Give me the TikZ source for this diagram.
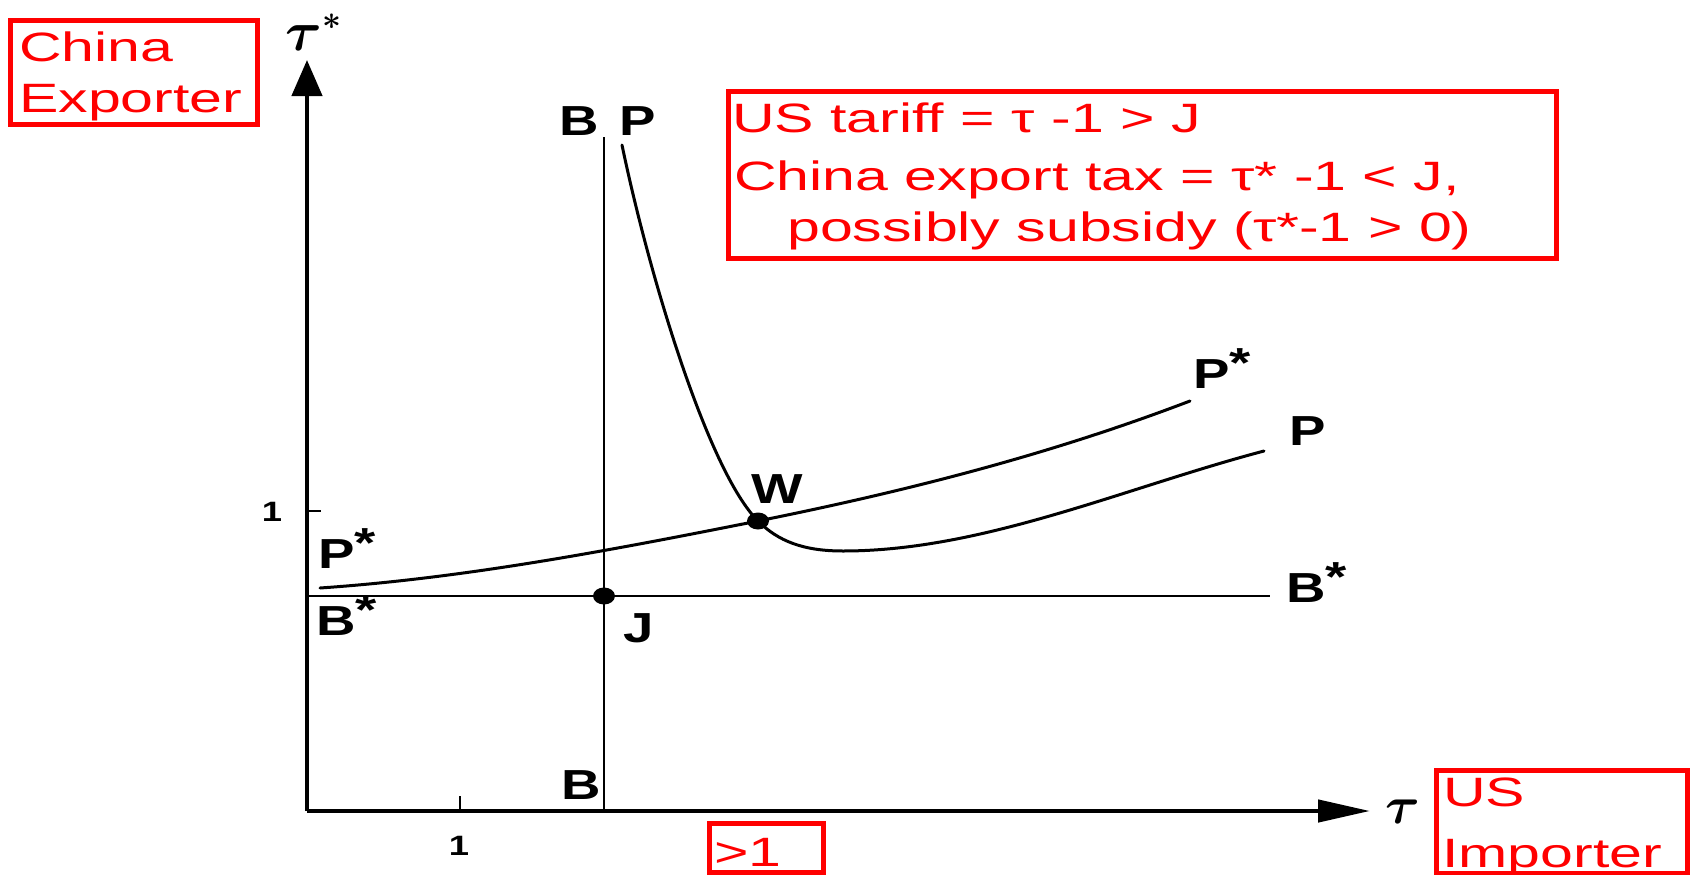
\documentclass[tikz,border=0pt]{standalone}
\usepackage{fontspec}
\usepackage{amsmath}
\usepackage{bm}
\usetikzlibrary{arrows.meta,shapes.geometric}
\newfontfamily\redfont[FakeStretch=1.44]{Liberation Sans}
\newfontfamily\lblfont[FakeStretch=1.3]{Liberation Sans Bold}
\begin{document}
\begin{tikzpicture}[x=1pt,y=-1pt,
  redbox/.style={draw=red, line width=5pt},
  redtext/.style={text=red, font=\redfont\fontsize{41}{50}\selectfont, inner sep=0pt, anchor=base west},
  lbl/.style={font=\lblfont\fontsize{42}{42}\selectfont, inner sep=0pt, anchor=base west},
  ticklbl/.style={font=\lblfont\fontsize{28}{28}\selectfont, inner sep=0pt},
  taulbl/.style={font=\normalsize, inner sep=0pt, anchor=base west},
  axisline/.style={line width=4.5pt},
  thinline/.style={line width=2.6pt},
  curveline/.style={line width=3pt, line cap=round},
  dotnode/.style={ellipse, fill=black, inner sep=0pt, minimum width=22pt, minimum height=17pt}
]
\useasboundingbox (0,0) rectangle (1690,875);
\fill[white] (0,0) rectangle (1690,875);

% coordinates
\coordinate (O) at (307,811);
\coordinate (Ytip) at (307,60);
\coordinate (Xtip) at (1370,811);
\coordinate (Btop) at (604,137);
\coordinate (Bbot) at (604,811);
\coordinate (BSl) at (307,596);
\coordinate (BSr) at (1270,596);
\coordinate (Yt1) at (321,511);
\coordinate (Yt0) at (307,511);
\coordinate (Xt0) at (460,811);
\coordinate (Xt1) at (460,796);
\coordinate (Pstart) at (622,145);
\coordinate (Pmin) at (843,551);
\coordinate (Pend) at (1264,451);
\coordinate (PSstart) at (320,588);
\coordinate (PSend) at (1190,401);
\coordinate (Wpt) at (758,521);
\coordinate (Jpt) at (604,596);

% axes
\draw[axisline, -{Triangle[length=36pt,width=30pt]}] (O) -- (Ytip);
\draw[axisline, -{Triangle[length=52pt,width=22pt]}] (O) -- (Xtip);
\draw[thinline] (Yt0) -- (Yt1);
\draw[thinline] (Xt0) -- (Xt1);

% B and B* lines
\draw[thinline] (Btop) -- (Bbot);
\draw[thinline] (BSl) -- (BSr);

% P curve
\draw[curveline] (Pstart) .. controls (649,275) and (708,471) .. (Wpt)
  .. controls (778,541) and (803,551) .. (Pmin)
  .. controls (983,551) and (1124,488) .. (Pend);
% P* curve
\draw[curveline] (PSstart) .. controls (466,578) and (612,550) .. (Wpt)
  .. controls (902,492) and (1046,456) .. (PSend);

% dots
\node[dotnode] (J) at (Jpt) {};
\node[dotnode] (W) at (Wpt) {};

% black labels
\node[lbl] (labBtop) at (559,135) {B};
\node[lbl] (labPtop) at (619,135) {P};
\node[lbl] (labBbot) at (561,799) {B};
\node[lbl] (labPSl) at (318,568) {P\raisebox{0.25em}{*}};
\node[lbl] (labBSl) at (316,635) {B\raisebox{0.25em}{*}};
\node[lbl] (labJ) at (623,642) {J};
\node[lbl] (labW) at (751,503) {W};
\node[lbl] (labPSr) at (1193,388) {P\raisebox{0.25em}{*}};
\node[lbl] (labPr) at (1289,445) {P};
\node[lbl] (labBSr) at (1286,602) {B\raisebox{0.25em}{*}};
\node[ticklbl] (one1) at (272,512) {1};
\node[ticklbl] (one2) at (459,846) {1};
\node[taulbl] (tauS) at (285,51) {\scalebox{5.6}{$\bm{\tau}$}\hspace{1pt}\raisebox{21pt}[12pt][0pt]{\scalebox{3.3}{$\bm{*}$}}};
\node[taulbl] (tau) at (1385,823) {\scalebox{5.3}{$\bm{\tau}$}};

% red boxes
\draw[redbox] (10.5,20.5) rectangle (257.5,124);
\node[redtext] (ch1) at (19,62) {China};
\node[redtext] (ch2) at (19,113) {Exporter};

\draw[redbox] (728.5,92) rectangle (1556.5,258.5);
\node[redtext] (n1) at (732,132) {US tariff = τ -1 > J};
\node[redtext] (n2) at (734,190) {China export tax = τ* -1 < J,};
\node[redtext] (n3) at (787,241) {possibly subsidy (τ*-1 > 0)};

\draw[redbox] (1436,770.5) rectangle (1687,873);
\node[redtext] (us1) at (1443,806) {US};
\node[redtext] (us2) at (1442,867) {Importer};

\draw[redbox] (709,823) rectangle (823,872);
\node[redtext] (gt1) at (714,866) {>1};
\end{tikzpicture}
\end{document}
